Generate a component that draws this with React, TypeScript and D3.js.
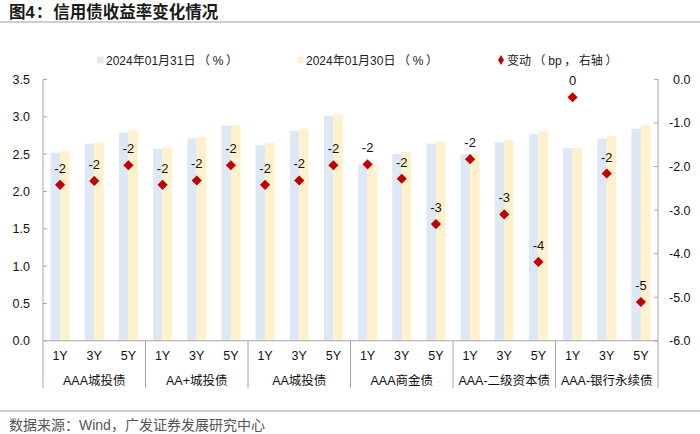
import React from 'react';
import * as d3 from 'd3';

// Data
const groups = ['AAA城投债', 'AA+城投债', 'AA城投债', 'AAA商金债', 'AAA-二级资本债', 'AAA-银行永续债'];
const tenors = ['1Y', '3Y', '5Y'];
const yieldJan31 = [2.52, 2.64, 2.79, 2.57, 2.71, 2.88, 2.62, 2.81, 3.01, 2.36, 2.5, 2.64, 2.5, 2.66, 2.77, 2.58, 2.71, 2.84];
const yieldJan30 = [2.54, 2.66, 2.82, 2.59, 2.73, 2.89, 2.65, 2.84, 3.03, 2.38, 2.53, 2.67, 2.51, 2.69, 2.81, 2.58, 2.74, 2.89];
const changeBp = [-2.42, -2.33, -1.97, -2.42, -2.32, -1.97, -2.42, -2.32, -1.97, -1.95, -2.28, -3.32, -1.83, -3.1, -4.19, -0.41, -2.16, -5.11];
const leftTicks = [0, 0.5, 1, 1.5, 2, 2.5, 3, 3.5];
const rightTicks = [0, -1, -2, -3, -4, -5, -6];
const legendLabels = ['2024年01月31日（%）', '2024年01月30日（%）', '变动（bp，右轴）'];

const W = 700;
const H = 434;
const M = { left: 43, right: 658, top: 79.4, bottom: 340.8 };
const NUM = '"Liberation Sans", Arial, sans-serif';
const CJK_ONLY = '"Noto Sans CJK SC", sans-serif';
const BLUE = '#DEE8F4';
const YELLOW = '#FFF1CC';
const RED = '#C00000';
const AXIS = '#A6A6A6';

const PUNCT = '（）：，';

// latin runs in Liberation Sans, CJK runs in Noto CJK; full-width punctuation
// gets a little extra room (the browser squeezes it otherwise)
function Mixed({ text, pad = 0 }: { text: string; pad?: number }) {
  const runs = text.match(/[\x00-\x7f]+|[（）：，]|[^\x00-\x7f（）：，]+/g) || [];
  return (
    <>
      {runs.map((r, i) => {
        const isP = PUNCT.includes(r);
        const afterP = i > 0 && PUNCT.includes(runs[i - 1]);
        return (
          <tspan key={i} dx={isP || afterP ? pad : 0} fontFamily={/^[\x00-\x7f]/.test(r) ? NUM : CJK_ONLY}>
            {r}
          </tspan>
        );
      })}
    </>
  );
}

export default function App() {
  const cats = groups.flatMap((g) => tenors.map((t) => `${g}|${t}`));
  const x = d3.scaleBand().domain(cats).range([M.left, M.right]);
  const yL = d3.scaleLinear().domain([0, 3.5]).range([M.bottom, M.top]);
  const yR = d3.scaleLinear().domain([-6, 0]).range([M.bottom, M.top]);
  const barW = 9.5;
  const groupW = x.bandwidth() * tenors.length;

  return (
    <svg width={W} height={H} style={{ position: 'absolute', left: 0, top: 0, background: '#fff' }}>
      {/* Title */}
      <text x={9} y={18} fontSize={16.5} fontWeight="bold" fill="#1a1a1a">
        <Mixed text="图4：信用债收益率变化情况" pad={1} />
      </text>
      <line x1={0} x2={W} y1={22} y2={22} stroke="#A0A0A0" strokeWidth={1} />

      {/* Legend */}
      <g fontSize={12} fill="#222">
        <rect x={97} y={56.7} width={6.5} height={6.5} fill={BLUE} />
        <text x={106} y={64.5}><Mixed text={legendLabels[0]} pad={2.6} /></text>
        <rect x={297} y={56.7} width={6.5} height={6.5} fill={YELLOW} />
        <text x={306} y={64.5}><Mixed text={legendLabels[1]} pad={2.6} /></text>
        <path d={d3.symbol(d3.symbolDiamond, 30)() || ''} transform="translate(501,60)" fill={RED} />
        <text x={507} y={64.5}><Mixed text={legendLabels[2]} pad={2.6} /></text>
      </g>

      {/* Bars */}
      {cats.map((c, i) => {
        const cx = (x(c) as number) + x.bandwidth() / 2;
        return (
          <g key={c}>
            <rect x={cx - barW} y={yL(yieldJan31[i])} width={barW} height={yL(0) - yL(yieldJan31[i])} fill={BLUE} />
            <rect x={cx} y={yL(yieldJan30[i])} width={barW} height={yL(0) - yL(yieldJan30[i])} fill={YELLOW} />
          </g>
        );
      })}

      {/* Diamonds + labels */}
      {cats.map((c, i) => {
        const cx = (x(c) as number) + x.bandwidth() / 2;
        const cy = yR(changeBp[i]);
        return (
          <g key={`d-${c}`}>
            <rect x={cx - 3.6} y={cy - 3.6} width={7.2} height={7.2} fill={RED} transform={`rotate(45 ${cx} ${cy})`} />
            <text x={cx} y={cy - 12} textAnchor="middle" fontFamily={NUM} fontSize={13} fill="#111">
              {d3.format('.0f')(changeBp[i]).replace('−', '-')}
            </text>
          </g>
        );
      })}

      {/* Left axis */}
      <line x1={M.left} x2={M.left} y1={M.top} y2={M.bottom} stroke={AXIS} />
      {leftTicks.map((t) => (
        <g key={`l-${t}`}>
          <line x1={M.left} x2={M.left + 4} y1={yL(t)} y2={yL(t)} stroke={AXIS} />
          <text x={30} y={yL(t) + 4.5} textAnchor="end" fontFamily={NUM} fontSize={12.5} fill="#111">
            {t.toFixed(1)}
          </text>
        </g>
      ))}

      {/* Right axis */}
      <line x1={M.right} x2={M.right} y1={M.top} y2={M.bottom} stroke={AXIS} />
      {rightTicks.map((t) => (
        <g key={`r-${t}`}>
          <line x1={M.right - 4} x2={M.right} y1={yR(t)} y2={yR(t)} stroke={AXIS} />
          <text x={t === 0 ? 673 : 669} y={yR(t) + 4.5} fontFamily={NUM} fontSize={12.5} fill="#111">
            {t.toFixed(1)}
          </text>
        </g>
      ))}

      {/* Category axis */}
      <line x1={M.left} x2={M.right} y1={M.bottom} y2={M.bottom} stroke={AXIS} />
      {d3.range(groups.length + 1).map((g) => {
        const gx = M.left + g * groupW;
        return <line key={`s-${g}`} x1={gx} x2={gx} y1={M.bottom} y2={388} stroke={AXIS} />;
      })}
      {cats.map((c, i) => (
        <text key={`t-${c}`} x={(x(c) as number) + x.bandwidth() / 2} y={360} textAnchor="middle" fontFamily={NUM} fontSize={12.5} fill="#111">
          {tenors[i % 3]}
        </text>
      ))}
      {groups.map((g, i) => (
        <text key={`g-${g}`} x={M.left + (i + 0.5) * groupW} y={385} textAnchor="middle" fontSize={12.5} fill="#111">
          <Mixed text={g} />
        </text>
      ))}

      {/* Footer */}
      <line x1={0} x2={W} y1={411} y2={411} stroke="#A0A0A0" strokeWidth={1} />
      <text x={9} y={430} fontSize={14} fill="#555">
        <Mixed text="数据来源：Wind，广发证券发展研究中心" />
      </text>
    </svg>
  );
}
